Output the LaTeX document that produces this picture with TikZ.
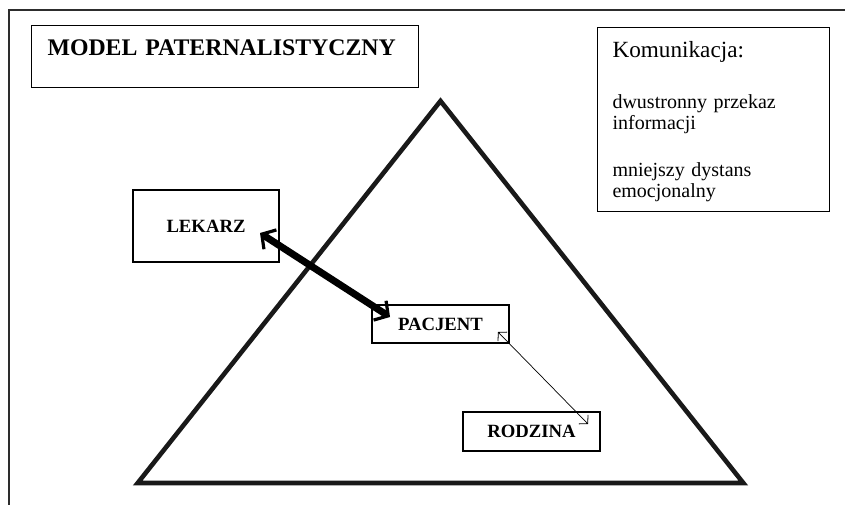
\documentclass[tikz,border=0pt]{standalone}
\usepackage{fontspec}
\setmainfont{Liberation Serif}
\usetikzlibrary{arrows.meta}
\definecolor{framegray}{RGB}{45,45,45}
\tikzset{
    titlebox/.style={rectangle, draw=black, line width=1.1pt, anchor=north west, inner xsep=16pt, inner ysep=0pt, text width=355pt, text height=30pt, text depth=32pt, align=left, font=\fontsize{23.8}{27}\selectfont\bfseries},
    infobox/.style={rectangle, draw=black, line width=1.1pt, anchor=north west, inner xsep=15pt, inner ysep=0pt, text width=202pt, text height=30pt, text depth=154pt, align=left, font=\fontsize{20}{21.5}\selectfont},
    rolebox/.style={rectangle, draw=black, line width=1.3pt, inner sep=0pt, minimum width=#1, font=\fontsize{18.7}{22}\selectfont\bfseries},
    tri/.style={line width=4.6pt, line join=miter, draw=black!90},
    frameline/.style={line width=1.8pt, draw=framegray},
    arrthick/.style={{Straight Barb[length=10pt,width=23pt,line width=3.2pt]}-{Straight Barb[length=10pt,width=23pt,line width=3.2pt]}, line width=7pt},
    arrthin/.style={{Straight Barb[length=6pt,width=13pt,line width=0.8pt]}-{Straight Barb[length=6pt,width=13pt,line width=0.8pt]}, line width=0.7pt}
}
\begin{document}
\begin{tikzpicture}[x=1pt, y=-1pt]
    \useasboundingbox (0,0) rectangle (845,505);
    % page frame, cut off at the right and the bottom
    \draw[frameline] (9,505) -- (9,10) -- (846,10);

    \draw[tri] (137.7,483) -- (440.5,101) -- (743.3,483) -- cycle;

    \node[titlebox] (title) at (31,25) {MODEL PATERNALISTYCZNY};
    \node[infobox] (komunikacja) at (597,27) {{\fontsize{23.2}{21.5}\selectfont Komunikacja:}\\[29pt]
        dwustronny przekaz\\informacji\\[25pt]
        mniejszy dystans\\emocjonalny};

    \node[rolebox=146pt, minimum height=72pt] (lekarz) at (206,226) {LEKARZ};
    \node[rolebox=137pt, minimum height=38pt] (pacjent) at (440.5,324) {PACJENT};
    \node[rolebox=137pt, minimum height=39pt] (rodzina) at (531.5,431.5) {RODZINA};

    \coordinate (lekarzin) at (260,233);
    \coordinate (pacjentin) at (390,317);
    \coordinate (pacjentin2) at (498,332);
    \coordinate (rodzinain) at (588,424);

    \draw[arrthick] (lekarzin) -- (pacjentin);
    \draw[arrthin] (pacjentin2) -- (rodzinain);
\end{tikzpicture}
\end{document}
